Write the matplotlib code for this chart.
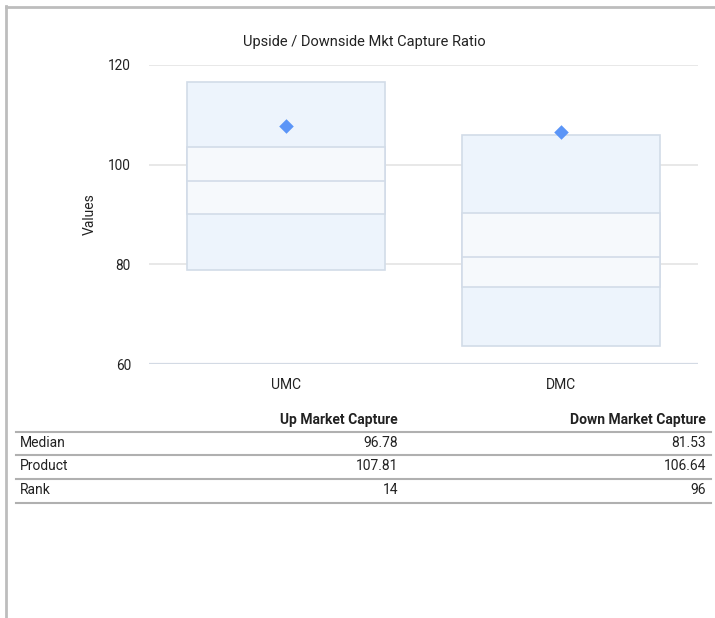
import matplotlib
matplotlib.use("Agg")
import matplotlib.pyplot as plt
from matplotlib.lines import Line2D

plt.rcParams['font.family'] = ['Roboto', 'DejaVu Sans']

# ---- data ----
categories = ["UMC", "DMC"]
box_max = [116.5, 105.9]
box_q3 = [103.6, 90.3]
box_median = [96.78, 81.53]
box_q1 = [90.1, 75.4]
box_min = [78.9, 63.7]
product = [107.81, 106.64]

table_cols = ["Up Market Capture", "Down Market Capture"]
table_rows = ["Median", "Product", "Rank"]
table_vals = [["96.78", "81.53"], ["107.81", "106.64"], ["14", "96"]]

title = "Upside / Downside Mkt Capture Ratio"
ylabel = "Values"
yticks = [60, 80, 100, 120]

W, H = 715, 618
fig = plt.figure(figsize=(W / 100, H / 100), dpi=100)

def fx(px):
    return px / W

def fy(py):
    return 1 - py / H

ax = fig.add_axes([fx(149), fy(364), fx(698) - fx(149), fy(65) - fy(364)])
ax.set_xlim(-0.5, 1.5)
ax.set_ylim(60, 120)
for s in ax.spines.values():
    s.set_visible(False)
ax.set_yticks(yticks)
ax.tick_params(axis='both', length=0, labelsize=9.8, colors='#222222')
ax.tick_params(axis='y', pad=13)
ax.tick_params(axis='x', pad=10)
ax.set_xticks(range(len(categories)))
ax.set_xticklabels(categories, fontsize=10)
for y in yticks:
    if y == 60:
        ax.axhline(y, color='#d3dae4', lw=1.6, zorder=0)
    else:
        ax.axhline(y, color='#e8e8e8', lw=1.4, zorder=0)

bw = 0.72
edge = '#d2dce8'
outer = '#edf4fc'
inner = '#f6f9fc'
for i in range(len(categories)):
    ax.bar(i, box_max[i] - box_min[i], bottom=box_min[i], width=bw,
           color=outer, edgecolor=edge, linewidth=1.2, zorder=2)
    ax.bar(i, box_q3[i] - box_q1[i], bottom=box_q1[i], width=bw,
           color=inner, edgecolor=edge, linewidth=1.2, zorder=3)
    ax.plot([i - bw / 2, i + bw / 2], [box_median[i]] * 2, color=edge, lw=1.2, zorder=4)
ax.scatter(range(len(categories)), product, marker='D', s=55, color='#5b95f7',
           zorder=6, linewidths=0)

ax.set_ylabel(ylabel, fontsize=10, color='#222222', labelpad=8)
fig.text(fx(364), fy(42), title, ha='center', va='center', fontsize=10.5, color='#222222')

# ---- table ----
col_x = [398, 706]
tfs = 10
fig.text(fx(col_x[0]), fy(420), table_cols[0], ha='right', va='center',
         fontsize=tfs, fontweight='bold', color='#222222')
fig.text(fx(col_x[1]), fy(420), table_cols[1], ha='right', va='center',
         fontsize=tfs, fontweight='bold', color='#222222')
row_y = [443, 466.5, 490]
line_y = [431.5, 455, 479, 502.5]
for r, name in enumerate(table_rows):
    fig.text(fx(20), fy(row_y[r]), name, ha='left', va='center', fontsize=tfs, color='#222222')
    for c in range(2):
        fig.text(fx(col_x[c]), fy(row_y[r]), table_vals[r][c], ha='right', va='center',
                 fontsize=tfs, color='#222222')
for ly in line_y:
    fig.add_artist(Line2D([fx(16), fx(711)], [fy(ly), fy(ly)], color='#b0b0b0', lw=1.5))

# ---- frame (left & top) ----
fig.add_artist(Line2D([fx(5.5), fx(5.5)], [fy(6), 0], color='#bdbdbd', lw=2))
fig.add_artist(Line2D([fx(5.5), 1], [fy(6.5), fy(6.5)], color='#bdbdbd', lw=2))

fig.savefig("out.png", dpi=100)
